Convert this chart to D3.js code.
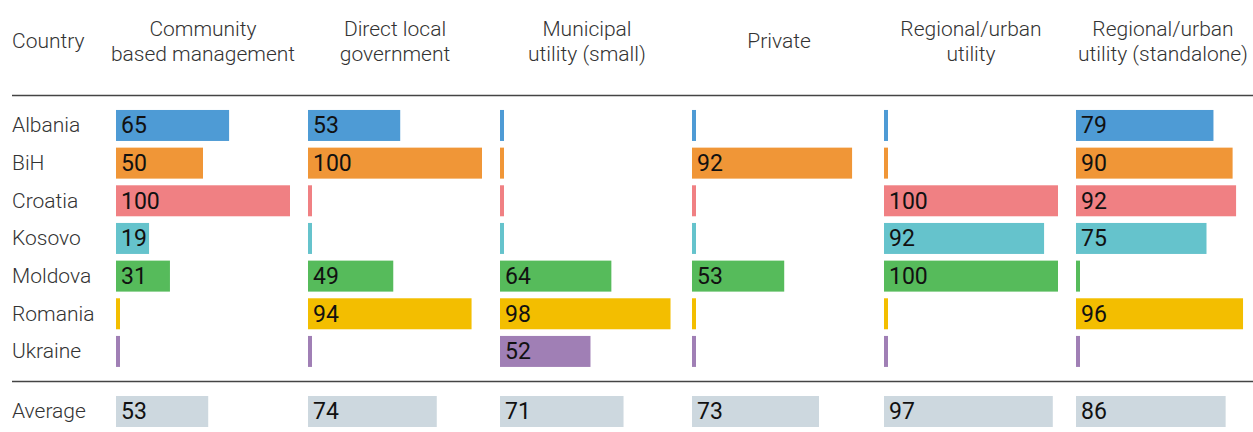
<!DOCTYPE html>
<meta charset="utf-8" />
<style>
    body { margin: 0; background: #fff; }
    text { font-family: Roboto, "Noto Sans", sans-serif; }
</style>
<svg width="1253" height="432"></svg>
<script src="https://cdn.jsdelivr.net/npm/d3@7"></script>
<script>
    var svg = d3.select("svg");
    var width = +svg.attr("width");

    // data (null = no value, drawn as a thin stub)
    var countries = ["Albania", "BiH", "Croatia", "Kosovo", "Moldova", "Romania", "Ukraine"];
    var colors = ["#4e9bd5", "#f09637", "#f08083", "#65c3cc", "#56bb5b", "#f3be00", "#a07fb5"];
    var models = [
        ["Community", "based management"],
        ["Direct local", "government"],
        ["Municipal", "utility (small)"],
        ["Private"],
        ["Regional/urban", "utility"],
        ["Regional/urban", "utility (standalone)"]
    ];
    var community = [65, 50, 100, 19, 31, null, null];
    var directLocal = [53, 100, null, null, 49, 94, null];
    var municipal = [null, null, null, null, 64, 98, 52];
    var privateOp = [null, 92, null, null, 53, null, null];
    var regional = [null, null, 100, 92, 100, null, null];
    var standalone = [79, 90, 92, 75, null, 96, null];
    var averages = [53, 74, 71, 73, 97, 86];

    var series = [community, directLocal, municipal, privateOp, regional, standalone];

    // scales
    var x0 = d3.scaleBand().domain(d3.range(models.length)).range([116, 116 + 192 * 6]);
    var x = d3.scaleLinear().domain([0, 100]).range([0, 174]);
    var y = d3.scaleBand().domain(countries).range([103.3, 373.6]).padding(0.177);
    var color = d3.scaleOrdinal().domain(countries).range(colors);
    var avgTop = 396, barH = y.bandwidth();
    var labelSize = 21, numSize = 23;

    // header
    svg.append("text").attr("x", 12).attr("y", 48).attr("font-size", labelSize)
        .attr("font-weight", 300).attr("fill", "#333").text("Country");

    var heads = svg.append("g").selectAll("text").data(models).enter().append("text")
        .attr("x", function (d, i) { return x0(i) + x(50); })
        .attr("y", function (d) { return d.length == 1 ? 48 : 36; })
        .attr("text-anchor", "middle").attr("font-size", labelSize)
        .attr("font-weight", 300).attr("fill", "#333");
    heads.selectAll("tspan").data(function (d) { return d; }).enter().append("tspan")
        .attr("x", function () { return d3.select(this.parentNode).attr("x"); })
        .attr("dy", function (d, i) { return i ? 25 : 0; })
        .text(function (d) { return d; });

    // rules
    svg.append("line").attr("x1", 12).attr("x2", width).attr("y1", 95.5).attr("y2", 95.5)
        .attr("stroke", "#444").attr("stroke-width", 1.3);
    svg.append("line").attr("x1", 12).attr("x2", width).attr("y1", 381.5).attr("y2", 381.5)
        .attr("stroke", "#444").attr("stroke-width", 1.3);

    // country labels
    svg.append("g").selectAll("text").data(countries).enter().append("text")
        .attr("x", 12).attr("y", function (d) { return y(d) + barH / 2 + 7; })
        .attr("font-size", labelSize).attr("font-weight", 300).attr("fill", "#333")
        .text(function (d) { return d; });
    svg.append("text").attr("x", 12).attr("y", avgTop + barH / 2 + 7)
        .attr("font-size", labelSize).attr("font-weight", 300).attr("fill", "#333").text("Average");

    // bars
    var cells = [];
    series.forEach(function (vals, i) {
        vals.forEach(function (v, j) {
            cells.push({ col: i, country: countries[j], value: v });
        });
    });

    var g = svg.append("g");
    g.selectAll("rect").data(cells).enter().append("rect")
        .attr("x", function (d) { return x0(d.col); })
        .attr("y", function (d) { return y(d.country); })
        .attr("width", function (d) { return d.value == null ? 4 : x(d.value); })
        .attr("height", barH)
        .attr("fill", function (d) { return color(d.country); });

    g.selectAll("text").data(cells.filter(function (d) { return d.value != null; })).enter().append("text")
        .attr("x", function (d) { return x0(d.col) + 5; })
        .attr("y", function (d) { return y(d.country) + barH / 2 + 8; })
        .attr("font-size", numSize).attr("fill", "#111")
        .text(function (d) { return d.value; });

    // average row
    var ga = svg.append("g");
    ga.selectAll("rect").data(averages).enter().append("rect")
        .attr("x", function (d, i) { return x0(i); })
        .attr("y", avgTop).attr("width", function (d) { return x(d); }).attr("height", barH)
        .attr("fill", "#cdd8df");
    ga.selectAll("text").data(averages).enter().append("text")
        .attr("x", function (d, i) { return x0(i) + 5; })
        .attr("y", avgTop + barH / 2 + 8)
        .attr("font-size", numSize).attr("fill", "#111")
        .text(function (d) { return d; });
</script>
